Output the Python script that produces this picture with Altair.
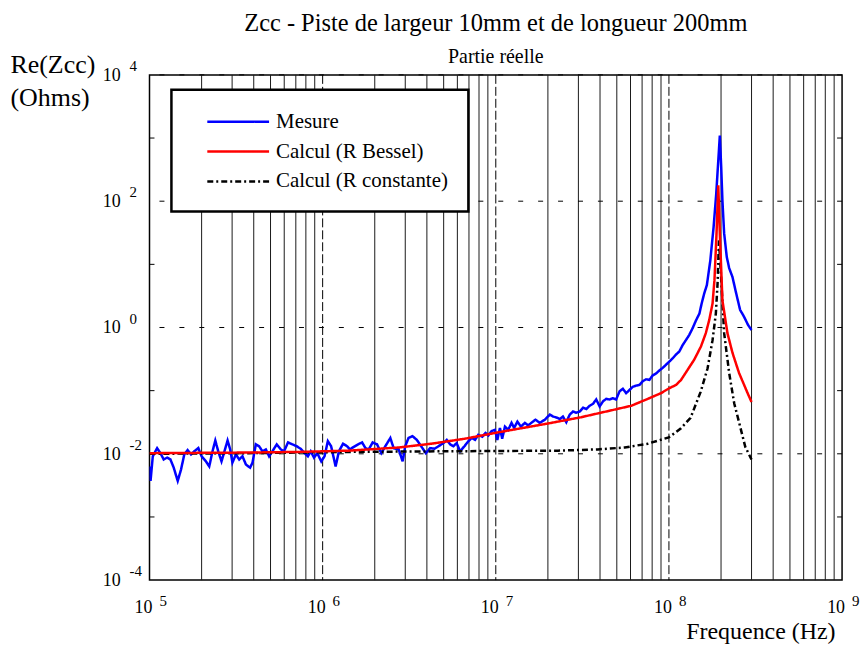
import altair as alt
import pandas as pd

FONT = "Liberation Serif"

# ---- series values (log10 of frequency in Hz, log10 of Re(Zcc) in Ohms) ----
mes_logf = [5.000, 5.006, 5.019, 5.044, 5.063, 5.082, 5.102, 5.121, 5.140, 5.163,
            5.182, 5.201, 5.220, 5.240, 5.259, 5.282, 5.301, 5.326, 5.345, 5.364,
            5.380, 5.397, 5.416, 5.436, 5.451, 5.466, 5.479, 5.499, 5.518, 5.537,
            5.557, 5.581, 5.595, 5.614, 5.633, 5.652, 5.672, 5.691, 5.710, 5.735,
            5.758, 5.777, 5.800, 5.825, 5.850, 5.873, 5.896, 5.915, 5.931, 5.950,
            5.969, 5.992, 6.011, 6.030, 6.049, 6.075, 6.094, 6.118, 6.141, 6.157,
            6.180, 6.205, 6.228, 6.247, 6.266, 6.289, 6.314, 6.339, 6.362, 6.391,
            6.410, 6.439, 6.462, 6.477, 6.496, 6.519, 6.544, 6.569, 6.596, 6.621,
            6.646, 6.669, 6.698, 6.717, 6.736, 6.755, 6.774, 6.794, 6.819, 6.842,
            6.861, 6.880, 6.899, 6.922, 6.941, 6.957, 6.976, 6.995, 7.009, 7.024,
            7.037, 7.053, 7.072, 7.091, 7.106, 7.125, 7.145, 7.168, 7.187, 7.210,
            7.229, 7.254, 7.283, 7.312, 7.331, 7.356, 7.370, 7.388, 7.407, 7.427,
            7.446, 7.465, 7.485, 7.504, 7.523, 7.542, 7.561, 7.580, 7.600, 7.619,
            7.638, 7.657, 7.676, 7.695, 7.715, 7.734, 7.753, 7.772, 7.791, 7.810,
            7.830, 7.849, 7.868, 7.887, 7.906, 7.925, 7.945, 7.964, 7.983, 8.002,
            8.021, 8.040, 8.060, 8.079, 8.098, 8.117, 8.137, 8.156, 8.176, 8.189,
            8.204, 8.219, 8.239, 8.258, 8.273, 8.285, 8.294, 8.302, 8.309, 8.319,
            8.334, 8.348, 8.367, 8.386, 8.411, 8.434, 8.457, 8.477]
mes_logz = [-2.20, -2.43, -2.04, -1.91, -1.99, -2.09, -2.06, -2.09, -2.22, -2.43,
            -2.25, -2.01, -1.94, -2.01, -1.96, -1.91, -2.04, -2.12, -2.20, -1.96,
            -1.79, -1.96, -2.12, -1.93, -1.79, -1.93, -2.14, -2.01, -2.09, -2.04,
            -2.17, -2.22, -2.14, -1.85, -1.88, -1.96, -1.93, -2.04, -1.96, -1.85,
            -1.93, -1.96, -1.82, -1.85, -1.88, -1.92, -1.99, -2.04, -1.96, -2.06,
            -1.99, -2.12, -2.04, -1.80, -1.88, -2.20, -1.96, -1.84, -1.88, -1.93,
            -1.89, -1.85, -1.82, -1.91, -1.93, -1.82, -1.85, -1.99, -1.88, -1.75,
            -1.91, -1.93, -2.12, -1.88, -1.75, -1.72, -1.78, -1.88, -1.99, -1.91,
            -1.92, -1.88, -1.83, -1.78, -1.85, -1.88, -1.83, -1.96, -1.88, -1.80,
            -1.75, -1.78, -1.70, -1.73, -1.67, -1.71, -1.64, -1.62, -1.78, -1.59,
            -1.76, -1.57, -1.62, -1.51, -1.59, -1.49, -1.57, -1.51, -1.55, -1.50,
            -1.46, -1.51, -1.46, -1.38, -1.41, -1.43, -1.45, -1.41, -1.50, -1.38,
            -1.33, -1.35, -1.33, -1.27, -1.29, -1.24, -1.21, -1.14, -1.25, -1.17,
            -1.13, -1.14, -1.12, -1.14, -1.01, -0.97, -1.04, -0.99, -0.94, -0.92,
            -0.91, -0.85, -0.82, -0.83, -0.76, -0.73, -0.68, -0.64, -0.59, -0.54,
            -0.49, -0.43, -0.38, -0.28, -0.20, -0.12, -0.01, 0.11, 0.22, 0.38,
            0.54, 0.67, 1.06, 1.59, 2.11, 2.64, 3.04, 2.54, 2.01, 1.49,
            1.12, 0.94, 0.80, 0.57, 0.28, 0.17, 0.04, -0.04]

bes_logf = [5.000, 5.576, 5.863, 6.151, 6.439, 6.629, 6.824, 7.014, 7.302, 7.494,
            7.590, 7.686, 7.782, 7.878, 7.954, 8.003, 8.041, 8.070, 8.108, 8.146,
            8.185, 8.213, 8.233, 8.252, 8.263, 8.275, 8.285, 8.294, 8.309, 8.338,
            8.367, 8.405, 8.453, 8.477]
bes_logz = [-1.99, -1.98, -1.97, -1.95, -1.90, -1.84, -1.76, -1.66, -1.52, -1.42,
            -1.36, -1.30, -1.24, -1.13, -1.04, -0.96, -0.91, -0.83, -0.67, -0.51,
            -0.30, -0.09, 0.12, 0.38, 0.75, 1.49, 2.25, 1.49, 0.43, -0.09,
            -0.40, -0.72, -1.03, -1.18]

cst_logf = [5.000, 5.576, 6.151, 6.727, 7.360, 7.590, 7.745, 7.878, 7.999, 8.068,
            8.125, 8.183, 8.223, 8.252, 8.271, 8.281, 8.289, 8.300, 8.319, 8.348,
            8.377, 8.405, 8.441, 8.477]
cst_logz = [-2.00, -1.99, -1.97, -1.96, -1.95, -1.93, -1.90, -1.84, -1.74, -1.60,
            -1.43, -1.02, -0.65, -0.20, 0.22, 0.70, 1.38, 0.86, -0.09, -0.72,
            -1.20, -1.50, -1.89, -2.09]

series_names = ["Mesure", "Calcul (R Bessel)", "Calcul (R constante)"]
series_colors = ["#0000ff", "#ff0000", "#000000"]
series_dash = [[1, 0], [1, 0], [6, 3, 2, 3]]

# ---- axis decorations ----
x_decades = [1e5, 1e6, 1e7, 1e8, 1e9]
x_exponents = ["5", "6", "7", "8", "9"]
y_decades = [1e-4, 1e-2, 1e0, 1e2, 1e4]
y_exponents = ["-4", "-2", "0", "2", "4"]
y_tick_values = [1e-3, 1e-1, 1e1, 1e3]
x_major_grid = [1e6, 1e7, 1e8]
x_minor_grid = [m * d for d in [1e5, 1e6, 1e7, 1e8] for m in range(2, 10)]
y_major_grid = [1e-2, 1e0, 1e2, 1e4]

rows = []
for name, lfs, lzs in [(series_names[0], mes_logf, mes_logz),
                       (series_names[1], bes_logf, bes_logz),
                       (series_names[2], cst_logf, cst_logz)]:
    for k, (a, b) in enumerate(zip(lfs, lzs)):
        rows.append({"serie": name, "f": 10 ** a, "z": 10 ** b, "k": k})
lines_df = pd.DataFrame(rows)

W, H = 695, 507
xs = alt.Scale(type="log", domain=[1e5, 1e9], nice=False)
ys = alt.Scale(type="log", domain=[1e-4, 1e4], nice=False)

color_enc = alt.Color("serie:N", scale=alt.Scale(domain=series_names, range=series_colors),
                      sort=series_names, legend=alt.Legend(title=None))
dash_enc = alt.StrokeDash("serie:N", scale=alt.Scale(domain=series_names, range=series_dash),
                          sort=series_names, legend=alt.Legend(title=None))

x_axis = alt.Axis(title="Frequence (Hz)", labels=False, ticks=False, domain=False, grid=False,
                  titleFontSize=24, titleAlign="right", titleX=688, titleY=59,
                  titleBaseline="alphabetic")
y_axis = alt.Axis(title=["Re(Zcc)", "(Ohms)"], labels=False, ticks=False, domain=False, grid=False,
                  titleAngle=0, titleAlign="left", titleX=-140, titleY=-2,
                  titleBaseline="alphabetic", titleLineHeight=33, titleFontSize=26)


def X(field="f:Q"):
    return alt.X(field, scale=xs, axis=x_axis)


def Y(field="z:Q"):
    return alt.Y(field, scale=ys, axis=y_axis)


# grid
minor_v = alt.Chart(pd.DataFrame({"f": x_minor_grid})).mark_rule(
    color="#1a1a1a", strokeWidth=1).encode(x=X())
major_v = alt.Chart(pd.DataFrame({"f": x_major_grid})).mark_rule(
    color="#000000", strokeWidth=1, strokeDash=[9, 3]).encode(x=X())
major_h = alt.Chart(pd.DataFrame({"z": y_major_grid})).mark_rule(
    color="#000000", strokeWidth=1, strokeDash=[5, 15]).encode(y=Y())
ticks_l = alt.Chart(pd.DataFrame({"z": y_tick_values})).mark_rule(
    color="#000000", strokeWidth=1).encode(y=Y(), x=alt.value(0), x2=alt.value(5))
ticks_r = alt.Chart(pd.DataFrame({"z": y_tick_values})).mark_rule(
    color="#000000", strokeWidth=1).encode(y=Y(), x=alt.value(W - 5), x2=alt.value(W))


# lines
def line_layer(name):
    return alt.Chart(lines_df).transform_filter(alt.datum.serie == name).mark_line(
        strokeWidth=2.5, clip=True).encode(
        x=X(), y=Y(), color=color_enc, strokeDash=dash_enc, order="k:Q")


mes_line = line_layer(series_names[0])
cst_line = line_layer(series_names[2])
bes_line = line_layer(series_names[1])

# tick labels (10 + raised exponent)
xlab = pd.DataFrame({"f": x_decades, "base": ["10"] * 5, "exp": x_exponents})
ylab = pd.DataFrame({"z": y_decades, "base": ["10"] * 5, "exp": y_exponents})
xl_base = alt.Chart(xlab).mark_text(font=FONT, fontSize=18, align="right", baseline="alphabetic",
                                    dx=3, color="black").encode(
    x=X(), y=alt.value(H + 33), text="base:N")
xl_exp = alt.Chart(xlab).mark_text(font=FONT, fontSize=15, align="left", baseline="alphabetic",
                                   dx=10, color="black").encode(
    x=X(), y=alt.value(H + 26), text="exp:N")
yl_base = alt.Chart(ylab).mark_text(font=FONT, fontSize=18, align="right", baseline="alphabetic",
                                    dy=6, color="black").encode(
    y=Y(), x=alt.value(-29), text="base:N")
yl_exp = alt.Chart(ylab).mark_text(font=FONT, fontSize=15, align="left", baseline="alphabetic",
                                   dy=-4, color="black").encode(
    y=Y(), x=alt.value(-20), text="exp:N")

chart = alt.layer(
    minor_v, major_v, major_h, ticks_l, ticks_r,
    mes_line, cst_line, bes_line,
    xl_base, xl_exp, yl_base, yl_exp,
).properties(
    width=W, height=H,
    autosize="none",
    padding={"left": 142, "top": 66, "right": 18, "bottom": 64},
    title=alt.Title(
        text="Zcc - Piste de largeur 10mm et de longueur 200mm",
        subtitle="Partie réelle",
        font=FONT, fontSize=24.5, fontWeight="normal", color="black",
        subtitleFont=FONT, subtitleFontSize=20, subtitleColor="black",
        anchor="middle", frame="group", offset=6, subtitlePadding=11, dy=22,
    ),
).configure_view(
    stroke="black", strokeWidth=1.5
).configure_axis(
    titleFont=FONT, titleFontWeight="normal", titleColor="black"
).configure_legend(
    orient="none", legendX=22, legendY=15,
    strokeColor="black", strokeWidth=2.5, fillColor="white",
    padding=20, rowPadding=8, symbolOffset=35,
    symbolType="M-3,0H3", symbolSize=427, symbolStrokeWidth=2.5,
    labelFont=FONT, labelFontSize=21, labelColor="black", labelOffset=26,
    labelLimit=400,
)

chart.save("out.html", embed_options={"renderer": "svg", "actions": False})
